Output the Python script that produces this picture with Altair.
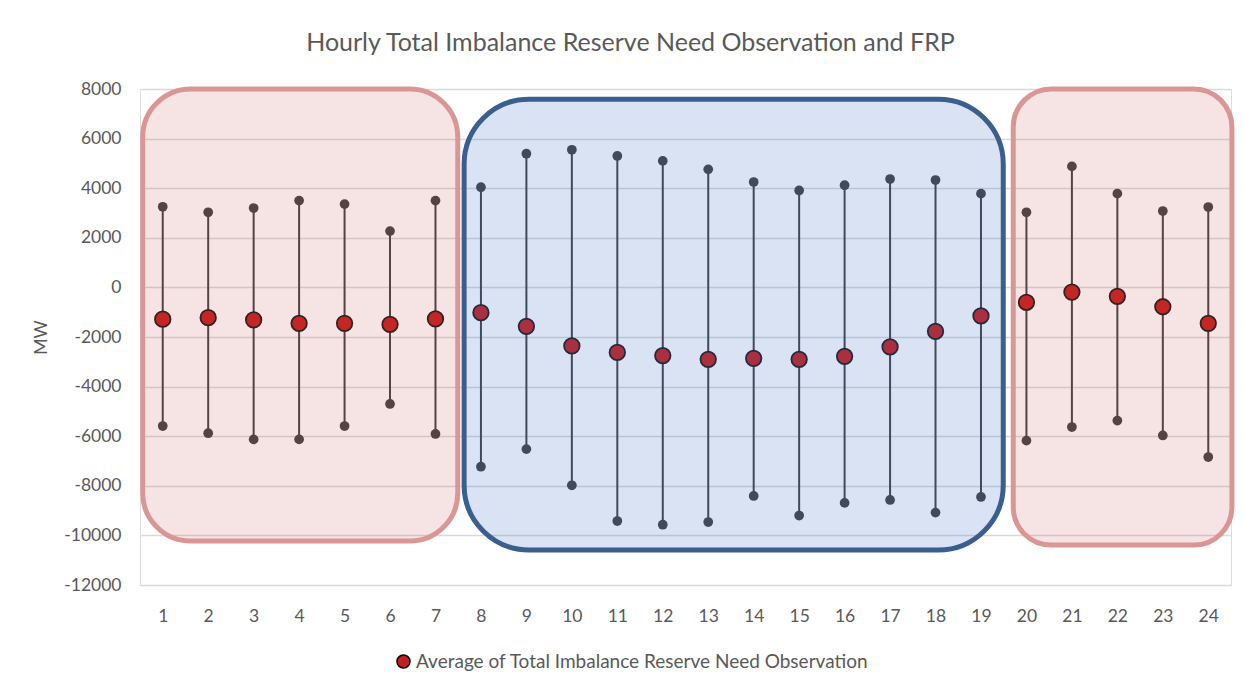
import altair as alt
import pandas as pd

hours = list(range(1, 25))
high = [3250, 3030, 3200, 3500, 3360, 2270, 3500, 4040, 5390, 5550, 5300, 5100,
        4760, 4250, 3910, 4120, 4370, 4330, 3780, 3030, 4880, 3780, 3080, 3240]
low = [-5590, -5880, -6130, -6130, -5590, -4700, -5910, -7230, -6520, -7980, -9420, -9570,
       -9460, -8410, -9200, -8690, -8570, -9080, -8450, -6180, -5630, -5370, -5970, -6840]
avg = [-1280, -1220, -1310, -1450, -1450, -1490, -1270, -1020, -1570, -2360, -2620, -2750,
       -2900, -2860, -2900, -2780, -2400, -1770, -1150, -600, -190, -360, -780, -1450]
series_name = "Average of Total Imbalance Reserve Need Observation"

# highlighted hour groups (rounded boxes)
box_x0 = [0.56, 7.63, 19.71]
box_x1 = [7.49, 19.49, 24.52]
box_top = [8000, 7590, 8000]
box_bottom = [-10230, -10590, -10390]
box_fill = ["#C0504D", "#4472C4", "#C0504D"]
box_stroke = ["#DA9694", "#3A5F8E", "#DA9694"]
box_radius = [48, 65, 38]
box_opacity = [0.155, 0.2, 0.155]

df = pd.DataFrame({"hour": hours, "high": high, "low": low, "avg": avg,
                   "series": [series_name] * 24})

FONT = "Lato"
GREY = "#595959"
FS = 17.5

x = alt.X("hour:Q", scale=alt.Scale(domain=[0.5, 24.5], nice=False, zero=False),
          axis=alt.Axis(values=hours, format="d", title=None, grid=False, domain=False,
                        ticks=False, labelPadding=22, labelFontSize=FS,
                        labelColor=GREY, labelFont=FONT))
yscale = alt.Scale(domain=[-12000, 8000], nice=False)
y = alt.Y("high:Q", scale=yscale,
          axis=alt.Axis(values=list(range(-12000, 8001, 2000)), title="MW",
                        labelExpr="'' + datum.value",
                        titleFontSize=FS, titleFontWeight="normal", titleColor=GREY,
                        titleFont=FONT, titlePadding=13, domain=False, ticks=False,
                        labelPadding=19, labelFontSize=FS, labelColor=GREY,
                        labelFont=FONT, gridColor="#D9D9D9", gridWidth=1.5))

base = alt.Chart(df)

whisk = base.mark_rule(color="#404040", strokeWidth=2).encode(
    x=x, y=y, y2="low:Q")
top_dot = base.mark_point(filled=True, color="#404040", size=95, opacity=1).encode(
    x="hour:Q", y="high:Q")
bot_dot = base.mark_point(filled=True, color="#404040", size=95, opacity=1).encode(
    x="hour:Q", y="low:Q")
avg_dot = base.mark_point(filled=True, size=240, stroke="#1A1A1A", strokeWidth=1.8,
                          opacity=1).encode(
    x="hour:Q", y="avg:Q",
    fill=alt.Fill("series:N",
                  scale=alt.Scale(domain=[series_name], range=["#C41E1E"]),
                  legend=alt.Legend(orient="none", legendX=254, legendY=563,
                                    title=None, labelFontSize=19, labelColor=GREY,
                                    labelFont=FONT, labelLimit=0, symbolType="circle",
                                    symbolSize=170, symbolStrokeColor="#000000",
                                    symbolStrokeWidth=1.5, symbolOpacity=1,
                                    labelOffset=3)))

boxes_df = pd.DataFrame({"x0": box_x0, "x1": box_x1, "top": box_top,
                         "bottom": box_bottom})
boxes = []
for i in range(3):
    boxes.append(
        alt.Chart(boxes_df.iloc[[i]]).mark_rect(
            fill=box_fill[i], fillOpacity=box_opacity[i],
            stroke=box_stroke[i], strokeWidth=5, strokeOpacity=1,
            cornerRadius=box_radius[i], clip=False
        ).encode(x="x0:Q", x2="x1:Q", y=alt.Y("top:Q", scale=yscale), y2="bottom:Q")
    )

chart = alt.layer(whisk, top_dot, bot_dot, avg_dot, *boxes).properties(
    width=1091, height=496,
    title=alt.TitleParams("Hourly Total Imbalance Reserve Need Observation and FRP",
                          font=FONT, fontSize=25, fontWeight="normal", color=GREY,
                          anchor="middle", dx=-55, offset=24),
    autosize=alt.AutoSizeParams(type="none"),
    padding={"left": 132, "top": 81, "right": 4, "bottom": 88},
).configure_view(stroke=None).configure(background="white")

chart.save("out.html", embed_options={"renderer": "svg", "actions": False})
